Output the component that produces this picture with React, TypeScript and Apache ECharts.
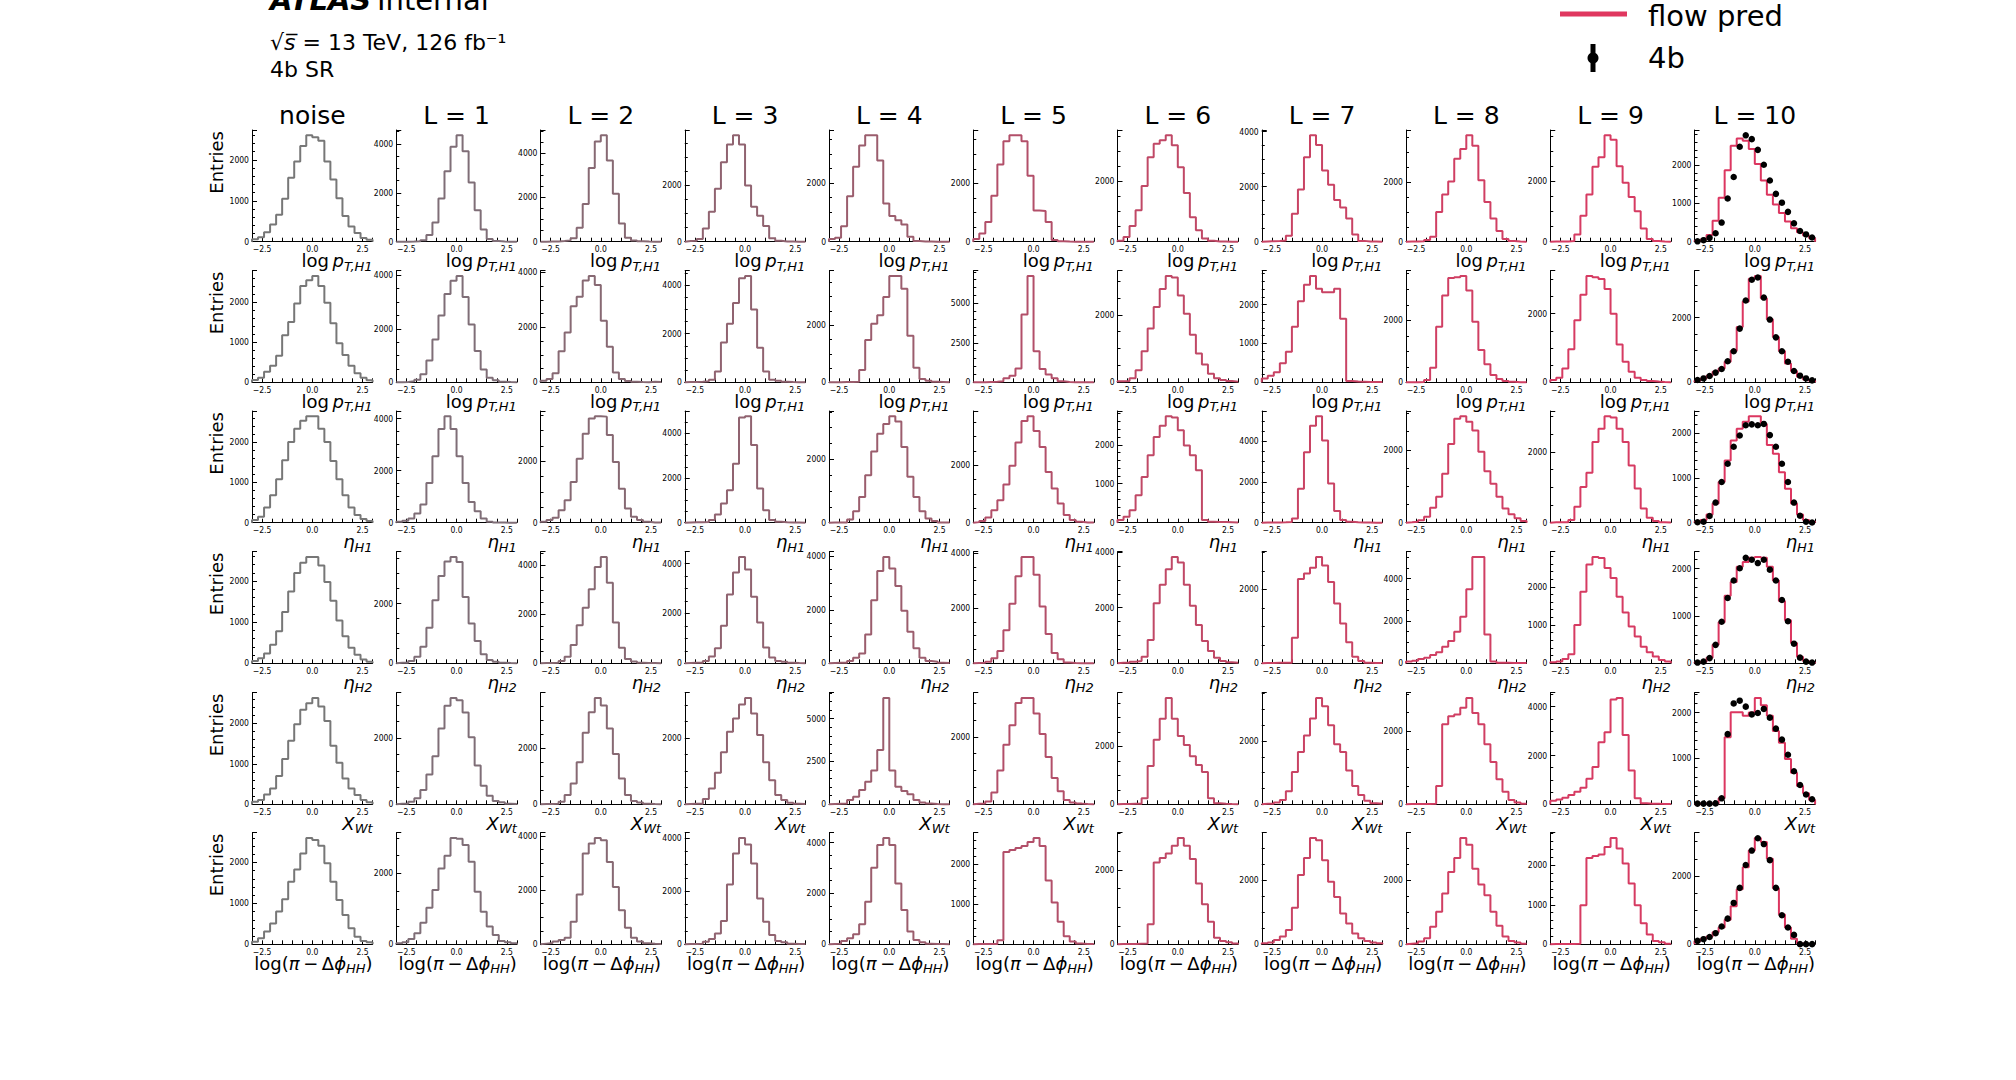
import React, { useEffect, useRef } from 'react';
import * as echarts from 'echarts';

// ---------------- data ----------------
const BIN_EDGES = [-3, -2.7, -2.4, -2.1, -1.8, -1.5, -1.2, -0.9, -0.6, -0.3, 0, 0.3, 0.6, 0.9, 1.2, 1.5, 1.8, 2.1, 2.4, 2.7, 3];
const BIN_CENTERS = [-2.85, -2.55, -2.25, -1.95, -1.65, -1.35, -1.05, -0.75, -0.45, -0.15, 0.15, 0.45, 0.75, 1.05, 1.35, 1.65, 1.95, 2.25, 2.55, 2.85];
const COLUMN_TITLES = ['noise', 'L = 1', 'L = 2', 'L = 3', 'L = 4', 'L = 5', 'L = 6', 'L = 7', 'L = 8', 'L = 9', 'L = 10'];
const X_TICKS = [{ v: -2.5, label: '\u22122.5' }, { v: 0, label: '0.0' }, { v: 2.5, label: '2.5' }];
const ROW_XLABELS = [
  '{n|log\u2009}{i|p}{s|T,H1}',
  '{n|log\u2009}{i|p}{s|T,H1}',
  '{i|\u03b7}{s|H1}',
  '{i|\u03b7}{s|H2}',
  '{i|X}{s|Wt}',
  '{n|log(}{i|\u03c0}{n|\u2009\u2212\u2009\u0394}{i|\u03d5}{s|HH}{n|)}',
];
const COLUMN_COLORS = ['#777777', '#7f6e77', '#876973', '#906370', '#9b5d6d', '#b24f69', '#c04866', '#c94364', '#d03f63', '#d63b62', '#dc3660'];
const LEGEND_COLOR = '#e0375f';

// each row: [noise, L=1 ... L=10]
const ROW1_LOG_PT_H1 = [
  [60, 110, 230, 420, 660, 1050, 1560, 1960, 2340, 2600, 2550, 2470, 1960, 1520, 1060, 630, 370, 210, 90, 50],
  [0, 0, 5, 15, 60, 270, 780, 1770, 2880, 3880, 4350, 3700, 2420, 1290, 500, 110, 25, 5, 0, 0],
  [0, 5, 10, 30, 60, 160, 630, 1710, 3330, 4530, 4810, 3670, 2170, 820, 180, 50, 15, 5, 0, 0],
  [25, 35, 95, 470, 1060, 1880, 2820, 3450, 3780, 3450, 2000, 1240, 920, 560, 120, 30, 10, 5, 0, 0],
  [90, 135, 530, 1550, 2560, 3280, 3630, 3630, 2770, 1300, 880, 730, 590, 170, 20, 10, 5, 0, 0, 0],
  [90, 280, 680, 1580, 2650, 3450, 3650, 3650, 3450, 2260, 1070, 1050, 680, 60, 15, 5, 0, 0, 0, 0],
  [30, 160, 520, 1040, 1850, 2800, 3250, 3370, 3530, 3200, 2470, 1620, 810, 380, 110, 30, 10, 5, 0, 0],
  [10, 15, 25, 40, 220, 1020, 1900, 3070, 3870, 3520, 2590, 2070, 1520, 1240, 840, 265, 30, 10, 5, 0],
  [5, 10, 15, 60, 170, 1000, 1580, 2020, 2780, 3110, 3570, 3220, 2060, 1330, 780, 360, 90, 20, 5, 0],
  [5, 5, 10, 20, 240, 860, 1570, 2490, 2800, 3530, 3380, 2500, 1960, 1480, 1010, 440, 90, 20, 5, 0],
  [25, 60, 175, 550, 1150, 1870, 2510, 2700, 2640, 2420, 2030, 1600, 1230, 970, 750, 530, 350, 250, 160, 90],
];
const ROW2_LOG_PT_H1 = [
  [60, 115, 265, 410, 660, 1170, 1500, 1960, 2400, 2540, 2650, 2400, 1980, 1470, 970, 680, 410, 225, 115, 50],
  [5, 15, 40, 100, 300, 820, 1600, 2500, 3300, 3800, 3980, 3190, 2160, 1170, 480, 170, 75, 25, 10, 0],
  [60, 120, 325, 1130, 1810, 2770, 3110, 3700, 3870, 3540, 2240, 1290, 360, 120, 50, 20, 10, 5, 20, 10],
  [10, 10, 20, 40, 100, 440, 1640, 2410, 3270, 4280, 4380, 3000, 1420, 440, 100, 60, 20, 10, 5, 0],
  [5, 5, 10, 10, 20, 430, 1480, 2050, 2350, 2990, 3730, 3730, 3280, 1630, 510, 120, 50, 20, 10, 0],
  [10, 10, 20, 30, 60, 250, 420, 880, 4300, 6740, 1970, 840, 500, 250, 60, 20, 10, 5, 0, 0],
  [30, 40, 120, 360, 920, 1590, 2230, 2760, 3150, 3100, 2570, 2030, 1410, 850, 530, 255, 120, 70, 40, 20],
  [100, 170, 260, 490, 790, 1430, 2090, 2510, 2740, 2410, 2320, 2320, 2410, 1640, 35, 20, 15, 10, 5, 5],
  [5, 5, 10, 75, 470, 1790, 2800, 3360, 3390, 3430, 2960, 1950, 1040, 580, 235, 110, 40, 15, 5, 0],
  [70, 135, 405, 965, 1810, 2550, 3100, 3060, 3010, 2720, 2000, 1100, 600, 310, 135, 70, 40, 20, 10, 5],
  [50, 120, 205, 330, 430, 635, 965, 1710, 2500, 3200, 3290, 2600, 1950, 1400, 965, 585, 350, 175, 90, 40],
];
const ROW3_ETA_H1 = [
  [65, 150, 380, 680, 1080, 1550, 2000, 2330, 2530, 2640, 2640, 2330, 2000, 1530, 1080, 680, 380, 190, 90, 40],
  [40, 75, 165, 355, 700, 1530, 2550, 3600, 4090, 3600, 2550, 1530, 800, 445, 165, 40, 10, 5, 0, 0],
  [30, 85, 160, 410, 735, 1330, 2090, 2900, 3400, 3470, 3460, 2860, 1980, 1110, 460, 195, 85, 30, 10, 5],
  [10, 15, 20, 35, 120, 370, 860, 1450, 2640, 4710, 4760, 3480, 1530, 560, 120, 45, 15, 10, 5, 0],
  [5, 5, 10, 105, 365, 815, 1500, 2250, 2810, 3120, 3360, 3200, 2390, 1450, 815, 365, 135, 50, 10, 5],
  [20, 60, 180, 430, 780, 1330, 1990, 2800, 3550, 3710, 3200, 2640, 1770, 1190, 670, 270, 90, 30, 10, 5],
  [70, 150, 320, 705, 1175, 1730, 2200, 2490, 2730, 2700, 2370, 1980, 1730, 1345, 70, 25, 20, 15, 10, 5],
  [10, 10, 15, 20, 30, 210, 1670, 3460, 4760, 5220, 4030, 1920, 570, 130, 50, 20, 10, 5, 0, 0],
  [10, 25, 70, 165, 410, 710, 1345, 2160, 2850, 2920, 2770, 2530, 1950, 1410, 1070, 710, 390, 230, 120, 45],
  [10, 10, 10, 75, 450, 1010, 1410, 2280, 2660, 3010, 2980, 2660, 2280, 1620, 970, 400, 140, 45, 10, 5],
  [20, 60, 185, 430, 910, 1390, 1840, 2100, 2260, 2380, 2380, 2210, 1740, 1540, 1130, 760, 430, 185, 60, 20],
];
const ROW4_ETA_H2 = [
  [55, 120, 240, 450, 780, 1250, 1750, 2200, 2450, 2590, 2590, 2380, 1980, 1520, 1040, 660, 380, 210, 90, 40],
  [20, 20, 80, 220, 555, 1190, 2110, 2920, 3410, 3560, 3390, 2220, 1330, 745, 300, 110, 55, 20, 10, 5],
  [10, 15, 20, 90, 270, 750, 1560, 2270, 3030, 3940, 4350, 3290, 1670, 640, 180, 70, 20, 15, 10, 5],
  [15, 20, 20, 90, 270, 600, 1510, 2760, 3640, 4270, 3760, 2670, 1640, 630, 230, 90, 60, 20, 10, 5],
  [15, 20, 20, 85, 210, 370, 1080, 2360, 3450, 3975, 3540, 2890, 1960, 1180, 560, 210, 85, 60, 20, 10],
  [10, 20, 60, 180, 450, 1200, 2160, 3160, 3860, 3860, 3210, 2060, 1060, 375, 150, 25, 10, 5, 0, 0],
  [20, 20, 60, 85, 240, 840, 2160, 2830, 3390, 3830, 3630, 2830, 2070, 1380, 800, 445, 200, 85, 35, 20],
  [10, 10, 15, 15, 15, 690, 2280, 2430, 2590, 2880, 2650, 2200, 1620, 1080, 570, 180, 65, 15, 10, 5],
  [80, 125, 205, 265, 390, 520, 785, 1050, 1490, 2200, 3500, 5020, 5020, 1360, 80, 30, 25, 20, 15, 10],
  [25, 45, 110, 235, 1000, 1870, 2580, 2780, 2750, 2490, 2230, 1740, 1330, 960, 700, 435, 290, 175, 85, 45],
  [15, 35, 120, 390, 870, 1430, 1720, 2040, 2140, 2230, 2250, 2230, 2040, 1750, 1320, 910, 430, 140, 50, 15],
];
const ROW5_X_WT = [
  [65, 105, 245, 390, 700, 1120, 1570, 1980, 2340, 2500, 2630, 2420, 2060, 1450, 1025, 635, 390, 230, 105, 50],
  [20, 20, 80, 180, 430, 900, 1450, 2290, 2970, 3210, 3140, 2770, 2020, 1170, 560, 260, 100, 60, 20, 10],
  [10, 15, 20, 90, 330, 740, 1500, 2560, 3290, 3800, 3530, 2710, 1800, 920, 330, 120, 60, 20, 10, 5],
  [10, 15, 20, 160, 480, 955, 1570, 2190, 2590, 3010, 3210, 2740, 2090, 1270, 725, 280, 130, 50, 20, 10],
  [20, 30, 40, 250, 440, 830, 1310, 1980, 3170, 6210, 1980, 1020, 770, 580, 250, 100, 40, 20, 10, 5],
  [15, 20, 80, 350, 1000, 1760, 2340, 3000, 3150, 3150, 2690, 2080, 1400, 780, 390, 130, 50, 20, 10, 5],
  [10, 10, 15, 20, 205, 1320, 2230, 2950, 3670, 2950, 2360, 2050, 1660, 1360, 1110, 205, 35, 20, 10, 5],
  [15, 20, 60, 135, 415, 1020, 1650, 2170, 2710, 3360, 3100, 2500, 1900, 1650, 1070, 580, 290, 115, 30, 15],
  [5, 10, 10, 10, 15, 500, 2180, 2400, 2450, 2630, 2900, 2490, 2180, 1640, 1150, 680, 340, 115, 50, 15],
  [150, 200, 270, 380, 510, 675, 1050, 1530, 2540, 2950, 4300, 4360, 2840, 1390, 245, 40, 25, 20, 15, 10],
  [15, 15, 15, 15, 130, 1460, 2010, 2010, 1930, 2000, 2320, 2160, 1930, 1600, 1340, 990, 690, 400, 240, 95],
];
const ROW6_LOG_DPHI = [
  [65, 145, 310, 510, 800, 1100, 1530, 1830, 2220, 2600, 2550, 2410, 1980, 1530, 1080, 715, 390, 185, 80, 50],
  [30, 55, 150, 310, 610, 1030, 1530, 2140, 2500, 3000, 2980, 2800, 2330, 1480, 920, 500, 265, 95, 55, 30],
  [25, 50, 100, 160, 245, 835, 1840, 3350, 3720, 3930, 3840, 3040, 2120, 1260, 610, 245, 100, 40, 20, 15],
  [10, 15, 20, 100, 200, 410, 875, 2250, 3410, 4000, 3750, 3040, 1720, 850, 350, 125, 75, 25, 15, 10],
  [15, 25, 130, 235, 390, 785, 1670, 3010, 3900, 4180, 3900, 2390, 1350, 500, 170, 80, 25, 15, 10, 5],
  [5, 5, 5, 10, 100, 2300, 2350, 2400, 2450, 2550, 2650, 2450, 1590, 1040, 560, 200, 70, 20, 10, 5],
  [10, 10, 10, 15, 20, 540, 2210, 2330, 2450, 2660, 2870, 2660, 2300, 1640, 1080, 610, 180, 90, 55, 20],
  [30, 60, 135, 240, 445, 1140, 2160, 2690, 3320, 3250, 2620, 1950, 1480, 960, 650, 340, 190, 105, 60, 30],
  [20, 30, 85, 185, 550, 1015, 1585, 2260, 2690, 3320, 3110, 2360, 1865, 1530, 1015, 580, 240, 105, 60, 20],
  [5, 5, 10, 10, 15, 990, 2180, 2230, 2270, 2460, 2690, 2420, 2040, 1540, 990, 530, 250, 85, 50, 15],
  [100, 160, 225, 355, 490, 720, 1110, 1610, 2250, 2740, 3110, 2990, 2500, 1640, 870, 490, 160, 20, 5, 5],
];

// 4b data points (only drawn in the L = 10 column)
const DATA_4B_ROW1 = [10, 40, 100, 220, 500, 1130, 1690, 2480, 2780, 2680, 2400, 2010, 1600, 1250, 1020, 780, 480, 280, 190, 110];
const DATA_4B_ROW2 = [70, 120, 195, 300, 410, 650, 960, 1660, 2530, 3170, 3240, 2620, 1940, 1390, 960, 635, 350, 205, 120, 60];
const DATA_4B_ROW3 = [10, 20, 150, 450, 910, 1320, 1700, 1950, 2180, 2200, 2180, 2210, 1960, 1700, 1320, 910, 450, 155, 20, 5];
const DATA_4B_ROW4 = [15, 35, 110, 390, 880, 1380, 1750, 2010, 2230, 2190, 2120, 2190, 1980, 1750, 1340, 890, 415, 120, 35, 15];
const DATA_4B_ROW5 = [15, 15, 15, 20, 130, 1530, 2200, 2260, 2130, 1960, 1990, 2080, 1890, 1650, 1410, 1080, 720, 420, 215, 110];
const DATA_4B_ROW6 = [100, 150, 215, 325, 520, 750, 1210, 1650, 2320, 2740, 3100, 2930, 2460, 1650, 850, 490, 275, 5, 5, 5];

const ROWS = [ROW1_LOG_PT_H1, ROW2_LOG_PT_H1, ROW3_ETA_H1, ROW4_ETA_H2, ROW5_X_WT, ROW6_LOG_DPHI];
const DATA_4B = [DATA_4B_ROW1, DATA_4B_ROW2, DATA_4B_ROW3, DATA_4B_ROW4, DATA_4B_ROW5, DATA_4B_ROW6];
const Y_STEPS = [1000, 2000, 2500, 5000];

// ---------------- layout / style ----------------
const FONT = "'DejaVu Sans', sans-serif";
const TICK_FONT = "'DejaVu Sans Condensed', 'Liberation Sans Narrow', 'DejaVu Sans', sans-serif";
const GRID_LEFT0 = 252;
const COL_STEP = 144.25;
const GRID_W = 120.6;
const GRID_H = 111.7;
const ROW_TOPS = [130, 270.6, 411, 551.6, 692.6, 832.6];

const richLabel = {
  n: { fontFamily: FONT, fontSize: 18, fill: '#000', lineHeight: 22, padding: [0, 0, 3, 0], verticalAlign: 'bottom' },
  i: { fontFamily: FONT, fontSize: 18, fontStyle: 'italic', fill: '#000', lineHeight: 22, padding: [0, 0, 3, 0], verticalAlign: 'bottom' },
  s: { fontFamily: FONT, fontSize: 13, fontStyle: 'italic', fill: '#000', lineHeight: 14, verticalAlign: 'bottom' },
};

function stepPoints(counts: number[]) {
  const pts: number[][] = [[BIN_EDGES[0], 0]];
  counts.forEach((v, i) => pts.push([BIN_EDGES[i], v]));
  pts.push([BIN_EDGES[BIN_EDGES.length - 1], 0]);
  return pts;
}

function textEl(x: number, y: number, text: string, extra: any = {}, rich?: any, rotation = 0) {
  const style: any = {
    text,
    fill: '#000',
    fontFamily: FONT,
    fontSize: extra.fontSize || 18,
    fontWeight: extra.fontWeight || 'normal',
    fontStyle: extra.fontStyle || 'normal',
    align: extra.align || 'left',
    textAlign: extra.align || 'left',
    verticalAlign: 'middle',
    textVerticalAlign: 'middle',
  };
  if (rich) style.rich = rich;
  return { type: 'text', x, y, rotation, silent: true, z: 100, style };
}

function buildOption() {
  const grids: any[] = [];
  const xAxes: any[] = [];
  const yAxes: any[] = [];
  const series: any[] = [];
  const elements: any[] = [];

  ROWS.forEach((rowHists, r) => {
    const top = ROW_TOPS[r];
    rowHists.forEach((counts, c) => {
      const idx = r * COLUMN_TITLES.length + c;
      const left = GRID_LEFT0 + c * COL_STEP;
      const dots = c === COLUMN_TITLES.length - 1 ? DATA_4B[r] : null;
      const peak = Math.max(...counts, ...(dots || []));
      const ymax = peak * 1.05;
      const step = Y_STEPS.find((s) => ymax / s <= 3) || 5000;
      const minorSplit = step === 2000 ? 4 : 5;

      grids.push({ left, top, width: GRID_W, height: GRID_H, containLabel: false, outerBoundsMode: 'none' });
      xAxes.push({
        gridIndex: idx,
        type: 'value',
        min: -3,
        max: 3,
        interval: 0.5,
        axisLine: { show: true, onZero: false, lineStyle: { color: '#000', width: 1 } },
        axisTick: { show: true, inside: true, length: 4, lineStyle: { color: '#000', width: 1 } },
        axisLabel: {
          show: true,
          margin: 3,
          fontSize: 8.5,
          fontFamily: TICK_FONT,
          color: '#000',
          formatter: (v: number) => {
            const t = X_TICKS.find((o) => Math.abs(o.v - v) < 1e-6);
            return t ? t.label : '';
          },
        },
        splitLine: { show: false },
      });
      yAxes.push({
        gridIndex: idx,
        type: 'value',
        min: 0,
        max: ymax,
        interval: step,
        axisLine: { show: true, onZero: false, lineStyle: { color: '#000', width: 1 } },
        axisTick: { show: true, inside: true, length: 5, lineStyle: { color: '#000', width: 1 } },
        minorTick: { show: true, splitNumber: minorSplit, length: 3, lineStyle: { color: '#000', width: 1 } },
        axisLabel: {
          show: true,
          margin: 3,
          fontSize: 8.5,
          fontFamily: TICK_FONT,
          color: '#000',
          formatter: (v: number) => {
            const k = v / step;
            return Math.abs(k - Math.round(k)) < 1e-6 ? String(Math.round(v)) : '';
          },
        },
        splitLine: { show: false },
        minorSplitLine: { show: false },
      });
      series.push({
        type: 'line',
        xAxisIndex: idx,
        yAxisIndex: idx,
        step: 'end',
        symbol: 'none',
        clip: false,
        silent: true,
        data: stepPoints(counts),
        lineStyle: { color: COLUMN_COLORS[c], width: 2 },
        z: 3,
      });
      if (dots) {
        series.push({
          type: 'scatter',
          xAxisIndex: idx,
          yAxisIndex: idx,
          symbol: 'circle',
          symbolSize: 6.5,
          silent: true,
          clip: false,
          data: BIN_CENTERS.map((x, i) => [x, dots[i]]),
          itemStyle: { color: '#000', opacity: 1 },
          z: 4,
        });
      }
      // x label, right aligned with axis end
      elements.push(textEl(left + GRID_W, top + GRID_H + 20, ROW_XLABELS[r], { align: 'right' }, richLabel));
    });
    // y label
    elements.push(textEl(216, top + 1, 'Entries', { align: 'right', fontSize: 18 }, undefined, Math.PI / 2));
  });

  COLUMN_TITLES.forEach((t, c) => {
    elements.push(textEl(GRID_LEFT0 + c * COL_STEP + GRID_W / 2, 115, t, { align: 'center', fontSize: 25 }));
  });

  // header
  elements.push(
    textEl(270, 0, '{a|ATLAS} {b|Internal}', {}, {
      a: { fontFamily: FONT, fontSize: 29, fontWeight: 'bold', fontStyle: 'italic', fill: '#000' },
      b: { fontFamily: FONT, fontSize: 29, fill: '#000' },
    })
  );
  elements.push(
    textEl(270, 42, '{n|\u221a}{m|s\u0305}{n| = 13 TeV, 126 fb\u207b\u00b9}', {}, {
      n: { fontFamily: FONT, fontSize: 22, fill: '#000' },
      m: { fontFamily: FONT, fontSize: 22, fontStyle: 'italic', fill: '#000' },
    })
  );
  elements.push(textEl(270, 69, '4b SR', { fontSize: 22 }));

  // legend
  elements.push({ type: 'line', silent: true, z: 100, shape: { x1: 1560, y1: 14, x2: 1627, y2: 14 }, style: { stroke: LEGEND_COLOR, lineWidth: 5 } });
  elements.push(textEl(1648, 16, 'flow pred', { fontSize: 29 }));
  elements.push({ type: 'line', silent: true, z: 100, shape: { x1: 1593, y1: 44, x2: 1593, y2: 72 }, style: { stroke: '#000', lineWidth: 5 } });
  elements.push({ type: 'circle', silent: true, z: 100, shape: { cx: 1593, cy: 58, r: 5.5 }, style: { fill: '#000' } });
  elements.push(textEl(1648, 58, '4b', { fontSize: 29 }));

  return {
    animation: false,
    backgroundColor: '#ffffff',
    grid: grids,
    xAxis: xAxes,
    yAxis: yAxes,
    series,
    graphic: { elements },
  };
}

export default function App() {
  const ref = useRef<HTMLDivElement>(null);
  useEffect(() => {
    if (!ref.current) return;
    const chart = echarts.init(ref.current, null, { renderer: 'svg' });
    chart.setOption(buildOption() as any);
    return () => chart.dispose();
  }, []);
  return <div ref={ref} style={{ position: 'fixed', left: 0, top: 0, width: 2016, height: 1080, background: '#fff' }} />;
}
